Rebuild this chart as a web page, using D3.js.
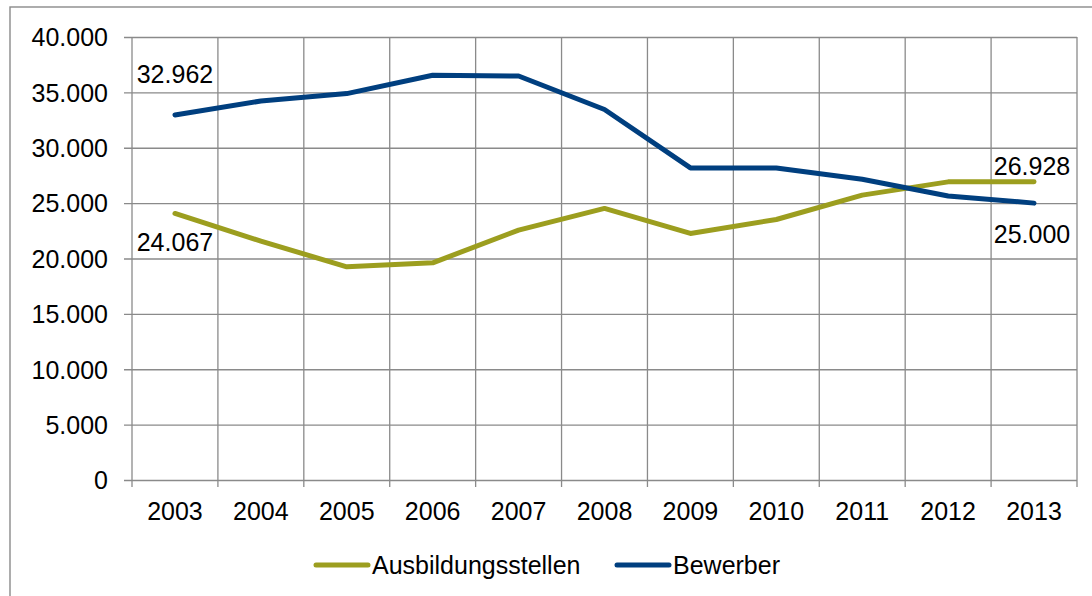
<!DOCTYPE html>
<html>
<head>
<meta charset="utf-8">
<script src="https://cdn.jsdelivr.net/npm/d3@7"></script>
<style>
  body { margin: 0; background: #fff; }
  svg text { font-family: "Liberation Sans", Arial, sans-serif; fill: #000; }
</style>
</head>
<body>
<svg id="chart" width="1092" height="596"></svg>
<script>
// data
const years = ['2003', '2004', '2005', '2006', '2007', '2008', '2009', '2010', '2011', '2012', '2013'];
const stellen = [24067, 21570, 19250, 19610, 22560, 24520, 22260, 23520, 25720, 26920, 26928];
const bewerber = [32962, 34220, 34890, 36540, 36480, 33450, 28180, 28170, 27160, 25650, 25000];
const yTicks = [0, 5000, 10000, 15000, 20000, 25000, 30000, 35000, 40000];

const colors = {stellen: '#9c9e1f', bewerber: '#003f7f', grid: '#8a8a8a'};
const fontSize = 25;

const svg = d3.select('#chart');
const plot = {left: 132, right: 1077, top: 37, bottom: 480};

const de = d3.formatLocale({decimal: ',', thousands: '.', grouping: [3], currency: ['', ' €']});
const fmt = de.format(',d');

const x = d3.scaleBand().domain(years).range([plot.left, plot.right]).padding(0);
const y = d3.scaleLinear().domain([0, 40000]).range([plot.bottom, plot.top]);
const cx = d => x(d) + x.bandwidth() / 2;

// outer frame
svg.append('rect')
    .attr('x', 10).attr('y', 7)
    .attr('width', 1100).attr('height', 600)
    .attr('fill', 'none')
    .attr('stroke', colors.grid)
    .attr('stroke-width', 1.4);

// horizontal grid + y ticks
const yAxis = svg.append('g')
    .attr('transform', `translate(${plot.left},0)`)
    .call(d3.axisLeft(y).tickValues(yTicks).tickFormat(fmt)
        .tickSize(-(plot.right - plot.left)).tickSizeOuter(0).tickPadding(0));
yAxis.select('.domain').remove();
yAxis.selectAll('.tick line')
    .attr('x1', -8)
    .attr('stroke', colors.grid).attr('stroke-width', 1.3);
yAxis.selectAll('.tick text')
    .attr('x', -24).attr('dy', '0.35em')
    .style('font-size', fontSize + 'px');

// vertical grid at category boundaries
const edges = years.map(d => x(d)).concat([plot.right]);
svg.append('g').selectAll('line')
    .data(edges)
    .join('line')
    .attr('x1', d => d).attr('x2', d => d)
    .attr('y1', plot.top).attr('y2', plot.bottom + 7)
    .attr('stroke', colors.grid).attr('stroke-width', 1.3);

// x labels
svg.append('g').selectAll('text')
    .data(years)
    .join('text')
    .attr('x', d => cx(d))
    .attr('y', 520)
    .attr('text-anchor', 'middle')
    .style('font-size', fontSize + 'px')
    .text(d => d);

// lines
const line = d3.line()
    .x((d, i) => cx(years[i]))
    .y(d => y(d));

const series = [
    {name: 'Ausbildungsstellen', values: stellen, color: colors.stellen},
    {name: 'Bewerber', values: bewerber, color: colors.bewerber}
];

series.forEach(s => {
    svg.append('path')
        .datum(s.values)
        .attr('d', line)
        .attr('fill', 'none')
        .attr('stroke', s.color)
        .attr('stroke-width', 5)
        .attr('stroke-linejoin', 'round')
        .attr('stroke-linecap', 'round');
});

// data labels at the ends
const last = years.length - 1;
const labels = [
    {i: 0, v: bewerber[0], dy: -32},
    {i: 0, v: stellen[0], dy: 38},
    {i: last, v: stellen[last], dy: -7},
    {i: last, v: bewerber[last], dy: 40}
];
svg.append('g').selectAll('text')
    .data(labels)
    .join('text')
    .attr('x', d => cx(years[d.i]) + (d.i === 0 ? 0 : -2))
    .attr('y', d => y(d.v) + d.dy)
    .attr('text-anchor', 'middle')
    .style('font-size', fontSize + 'px')
    .text(d => fmt(d.v));

// legend
const legendPos = [316, 617];
const legend = svg.append('g').selectAll('g')
    .data(series)
    .join('g')
    .attr('transform', (d, i) => `translate(${legendPos[i]},565)`);
legend.append('line')
    .attr('x1', 0).attr('x2', 52)
    .attr('stroke', d => d.color)
    .attr('stroke-width', 5)
    .attr('stroke-linecap', 'round');
legend.append('text')
    .attr('x', 56).attr('y', 8.5)
    .style('font-size', fontSize + 'px')
    .text(d => d.name);
</script>
</body>
</html>
